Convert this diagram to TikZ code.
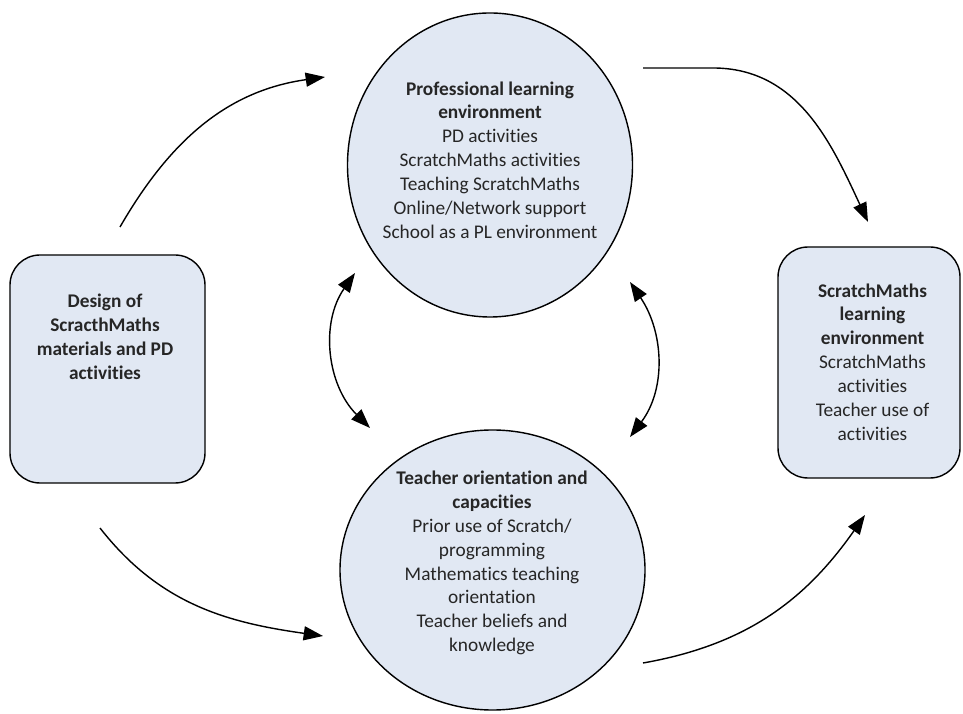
\documentclass[tikz,border=0pt]{standalone}
\usepackage{fontspec}
\setmainfont[Ligatures=NoCommon]{Carlito}
\usepackage{tikz}
\usetikzlibrary{arrows.meta,shapes.geometric}
\usepackage{xcolor}
\definecolor{paleblue}{RGB}{225,232,243}
\tikzstyle{roundbox} = [draw=black, fill=paleblue, line width=0.8pt, rectangle, rounded corners=0.6cm]
\tikzstyle{bubble} = [draw=black, fill=paleblue, line width=0.8pt, ellipse, inner sep=0pt]
\tikzstyle{boxtext} = [align=center, inner sep=0pt, text=black!85, font=\fontsize{11}{13.6}\selectfont]
\tikzstyle{flow} = [line width=0.8pt, -{Triangle[length=11pt,width=8pt]}]
\tikzstyle{twoway} = [line width=0.8pt, {Triangle[length=11pt,width=8pt]}-{Triangle[length=11pt,width=8pt]}]

\begin{document}
\begin{tikzpicture}
\useasboundingbox (0,0) rectangle (19.26,14.26);

% the four shapes
\node [bubble, minimum width=5.7cm, minimum height=6.08cm] (ple) at (9.8,10.96) {};
\node [bubble, minimum width=6.1cm, minimum height=5.6cm] (teacher) at (9.85,2.86) {};
\node [roundbox, minimum width=3.9cm, minimum height=4.56cm] (design) at (2.15,6.88) {};
\node [roundbox, minimum width=3.64cm, minimum height=4.62cm] (smle) at (17.38,7.01) {};

\node [boxtext] (pletext) at (9.8,11.06) {%
    \textbf{Professional learning}\\
    \textbf{environment}\\
    PD activities\\
    ScratchMaths activities\\
    Teaching ScratchMaths\\
    Online/Network support\\
    School as a PL environment};
\node [boxtext] (teachertext) at (9.84,3.0) {%
    \textbf{Teacher orientation and}\\
    \textbf{capacities}\\
    Prior use of Scratch/\\
    programming\\
    Mathematics teaching\\
    orientation\\
    Teacher beliefs and\\
    knowledge};
\node [boxtext] (designtext) at (2.1,7.52) {%
    \textbf{Design of}\\
    \textbf{ScracthMaths}\\
    \textbf{materials and PD}\\
    \textbf{activities}};
\node [boxtext] (smletext) at (17.45,7.02) {%
    \textbf{ScratchMaths}\\
    \textbf{learning}\\
    \textbf{environment}\\
    ScratchMaths\\
    activities\\
    Teacher use of\\
    activities};

% arrow ends
\coordinate (d1) at (2.4,9.72);
\coordinate (p1) at (6.5,12.72);
\coordinate (p2) at (12.86,12.9);
\coordinate (s1) at (17.36,9.82);
\coordinate (d2) at (2.0,3.7);
\coordinate (t1) at (6.46,1.54);
\coordinate (t2) at (12.86,1.0);
\coordinate (s2) at (17.3,3.96);
\coordinate (lu) at (7.1,8.8);
\coordinate (ld) at (7.4,5.7);
\coordinate (ru) at (12.6,8.62);
\coordinate (rd) at (12.6,5.52);

\draw [flow] (d1) to[out=60, in=188] (p1);
\draw [flow] (p2) -- ++(1.4,0) to[out=0, in=115] (s1);
\draw [flow] (d2) to[out=-52, in=172] (t1);
\draw [flow] (t2) to[out=10, in=235] (s2);
\draw [twoway] (lu) to[out=235, in=135] (ld);
\draw [twoway] (ru) to[out=-56, in=53] (rd);
\end{tikzpicture}
\end{document}
